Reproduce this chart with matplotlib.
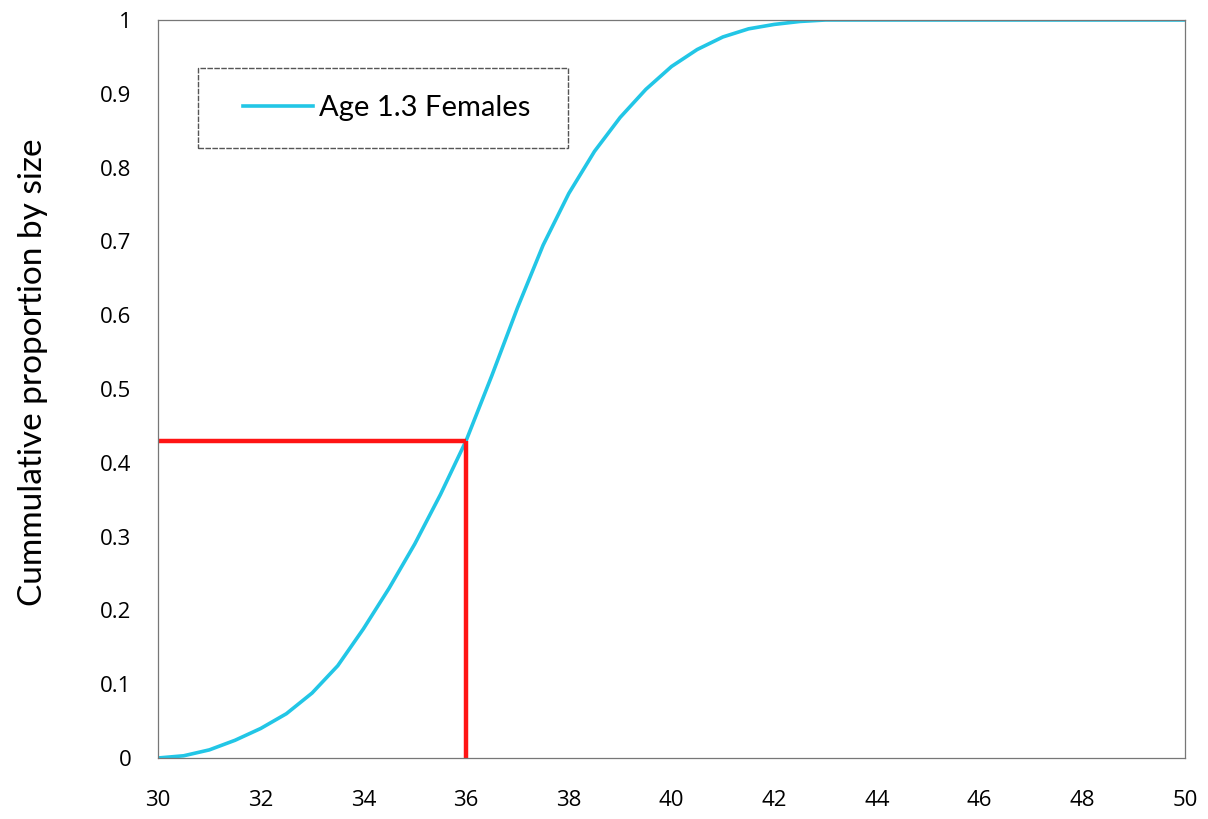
import matplotlib.pyplot as plt
import numpy as np
from matplotlib.patches import Rectangle

# curve
size = [30, 30.5, 31, 31.5, 32, 32.5, 33, 33.5, 34, 34.5, 35, 35.5, 36,
        36.5, 37, 37.5, 38, 38.5, 39, 39.5, 40, 40.5, 41, 41.5, 42, 42.5,
        43, 44, 45, 46, 47, 48, 49, 50]
cum_prop = [0.0, 0.003, 0.011, 0.024, 0.04, 0.06, 0.088, 0.125, 0.175, 0.23,
            0.29, 0.357, 0.43, 0.518, 0.61, 0.695, 0.765, 0.822, 0.868, 0.906,
            0.937, 0.96, 0.977, 0.988, 0.994, 0.998, 1.0, 1.0, 1.0, 1.0,
            1.0, 1.0, 1.0, 1.0]

# reading marker
mark_x = 36
mark_y = 0.43

xticks = np.arange(30, 51, 2)
yticks = np.round(np.arange(0, 1.01, 0.1), 1)

fig = plt.figure(figsize=(12.08, 8.19), dpi=100)
ax = fig.add_axes([0.1308, 0.0745, 0.8502, 0.9011])

ax.plot(size, cum_prop, color='#22c6e6', lw=2.6, label='Age 1.3 Females',
        solid_joinstyle='round')
ax.plot([30, mark_x], [mark_y, mark_y], color='#ff1414', lw=3.2, solid_capstyle='butt')
ax.plot([mark_x, mark_x], [0, mark_y], color='#ff1414', lw=3.2, solid_capstyle='butt')

ax.set_xlim(30, 50)
ax.set_ylim(0, 1)
ax.set_xticks(xticks)
ax.set_yticks(yticks)
ax.set_xticklabels([str(v) for v in xticks], fontsize=16, family='Open Sans')
ax.set_yticklabels(['%g' % v for v in yticks], fontsize=16, family='Open Sans')
ax.tick_params(length=0)
ax.tick_params(axis='y', pad=19)
ax.tick_params(axis='x', pad=23)
for s in ax.spines.values():
    s.set_color('#777777')
    s.set_linewidth(0.9)

ax.set_ylabel('Cummulative proportion by size', fontsize=24, family='Lato')
ax.yaxis.set_label_coords(-0.107, 0.523)

# legend box drawn by hand, the legend itself sits inside without frame
ax.add_patch(Rectangle((0.039, 0.827), 0.36, 0.108, transform=ax.transAxes,
                       fill=False, edgecolor='#555555', lw=1.0,
                       linestyle=(0, (4, 1)), zorder=4))
leg = ax.legend(loc='center left', bbox_to_anchor=(0.083, 0.881),
                prop={'family': 'Lato', 'size': 21}, frameon=False,
                borderpad=0, handlelength=2.4, borderaxespad=0,
                handletextpad=0.2)

fig.savefig('out.png', dpi=100)
